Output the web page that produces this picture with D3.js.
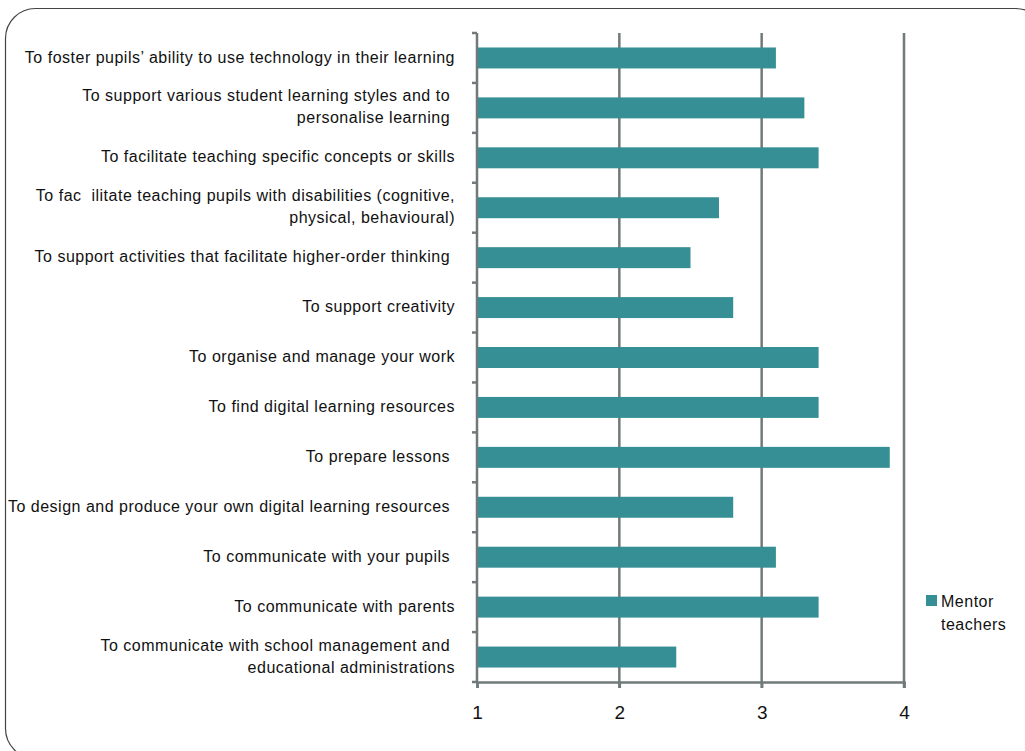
<!DOCTYPE html>
<html>
<head>
<meta charset="utf-8">
<script src="https://cdn.jsdelivr.net/npm/d3@7/dist/d3.min.js"></script>
<style>
html,body{margin:0;padding:0;background:#fff;}
svg{display:block;font-family:"Liberation Sans",Arial,Helvetica,sans-serif;}
</style>
</head>
<body>
<svg id="chart" width="1025" height="751"></svg>
<script>
const categories = [
  ["To foster pupils\u2019 ability to use technology in their learning"],
  ["To support various student learning styles and to ", "personalise learning "],
  ["To facilitate teaching specific concepts or skills"],
  ["To fac  ilitate teaching pupils with disabilities (cognitive,", "physical, behavioural)"],
  ["To support activities that facilitate higher-order thinking "],
  ["To support creativity"],
  ["To organise and manage your work"],
  ["To find digital learning resources"],
  ["To prepare lessons "],
  ["To design and produce your own digital learning resources "],
  ["To communicate with your pupils "],
  ["To communicate with parents"],
  ["To communicate with school management and ", "educational administrations"]
];
const values = [3.1, 3.3, 3.4, 2.7, 2.5, 2.8, 3.4, 3.4, 3.9, 2.8, 3.1, 3.4, 2.4];
const tickValues = [1, 2, 3, 4];
const seriesName = ["Mentor", "teachers"];

(function () {
const svg = d3.select("#chart");
const barColor = "#358f94";
const gridColor = "#717a7a";

// outer rounded border
svg.append("rect")
  .attr("x", 5.5).attr("y", 8.5)
  .attr("width", 1040).attr("height", 750)
  .attr("rx", 30).attr("ry", 30)
  .attr("fill", "none").attr("stroke", "#444").attr("stroke-width", 1.2);

const pLeft = 477, pRight = 904, pTop = 33, pBottom = 682;
const x = d3.scaleLinear().domain([1, 4]).range([pLeft, pRight]);
const y = d3.scaleBand().domain(d3.range(categories.length)).range([pTop, pBottom]).paddingInner(0.58).paddingOuter(0.29);
const yb = d3.scaleBand().domain(d3.range(categories.length)).range([pTop, pBottom]);

// gridlines
svg.append("g").selectAll("line").data(tickValues.slice(1)).join("line")
  .attr("x1", d => x(d)).attr("x2", d => x(d))
  .attr("y1", pTop).attr("y2", pBottom + 6)
  .attr("stroke", gridColor).attr("stroke-width", 2.5);

// bars
svg.append("g").selectAll("rect").data(values).join("rect")
  .attr("x", x(1) + 1)
  .attr("y", (d, i) => y(i))
  .attr("width", d => x(d) - x(1) - 1)
  .attr("height", y.bandwidth())
  .attr("fill", barColor);

// x axis
const xAxis = svg.append("g").attr("transform", `translate(0,${pBottom})`)
  .call(d3.axisBottom(x).tickValues(tickValues).tickSize(6).tickPadding(18).tickFormat(d3.format("d")));
xAxis.select(".domain").attr("stroke", gridColor).attr("stroke-width", 2.5);
xAxis.selectAll(".tick line").attr("stroke", gridColor).attr("stroke-width", 2.5);
xAxis.selectAll(".tick text").attr("font-size", 19).attr("fill", "#111")
  .attr("font-family", "'Liberation Sans',Arial,sans-serif");

// y axis line with ticks at band boundaries
const boundaries = d3.range(categories.length + 1).map(i => pTop + i * yb.step());
svg.append("line").attr("x1", pLeft).attr("x2", pLeft).attr("y1", pTop).attr("y2", pBottom)
  .attr("stroke", gridColor).attr("stroke-width", 2.5);
svg.append("g").selectAll("line").data(boundaries).join("line")
  .attr("x1", pLeft - 5).attr("x2", pLeft)
  .attr("y1", d => d).attr("y2", d => d)
  .attr("stroke", gridColor).attr("stroke-width", 2.5);

// category labels
const lbl = svg.append("g").selectAll("text").data(categories).join("text")
  .attr("text-anchor", "end")
  .attr("font-size", 16)
  .attr("letter-spacing", 0.5)
  .attr("fill", "#111")
  .style("white-space", "pre");
lbl.each(function(lines, i) {
  const cy = yb(i) + yb.bandwidth() / 2 - 1;
  const lh = 22;
  const t = d3.select(this);
  lines.forEach((s, k) => {
    t.append("tspan")
      .attr("x", 455)
      .attr("y", cy + (k - (lines.length - 1) / 2) * lh)
      .attr("dy", "0.35em")
      .text(s);
  });
});

// legend
svg.append("rect").attr("x", 926).attr("y", 595).attr("width", 11).attr("height", 11).attr("fill", barColor);
svg.append("text").attr("font-size", 16).attr("letter-spacing", 0.5).attr("fill", "#111")
  .selectAll("tspan").data(seriesName).join("tspan")
  .attr("x", 941).attr("y", (d, i) => 607 + i * 23).text(d => d);
})();
</script>
</body>
</html>
